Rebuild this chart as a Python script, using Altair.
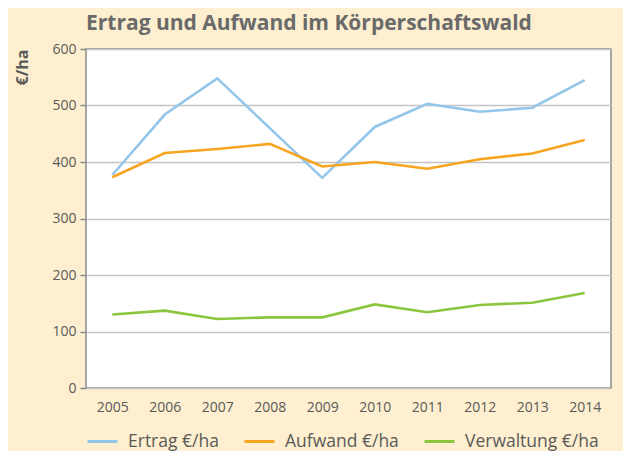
import altair as alt
import pandas as pd

years = ["2005", "2006", "2007", "2008", "2009", "2010", "2011", "2012", "2013", "2014"]
ertrag = [377, 484, 548, 460, 372, 462, 503, 489, 496, 545]
aufwand = [373, 416, 423, 432, 392, 400, 388, 405, 415, 439]
verwaltung = [130, 137, 122, 125, 125, 148, 134, 147, 151, 168]
series_names = ["Ertrag €/ha", "Aufwand €/ha", "Verwaltung €/ha"]
series_colors = ["#93C6EA", "#F7A521", "#8CC63F"]

rows = []
for name, vals in zip(series_names, [ertrag, aufwand, verwaltung]):
    for y, v in zip(years, vals):
        rows.append({"Jahr": y, "Wert": v, "Serie": name})
df = pd.DataFrame(rows)

text_color = "#5a5a5a"
font = "Open Sans"

chart = alt.Chart(df).mark_line(strokeWidth=2.6).encode(
    x=alt.X("Jahr:O", sort=years, scale=alt.Scale(padding=0.5),
            axis=alt.Axis(title=None, labelAngle=0, ticks=False, domain=False,
                          labelPadding=12, labelFontSize=14, labelColor=text_color,
                          labelFont=font, grid=False)),
    y=alt.Y("Wert:Q", scale=alt.Scale(domain=[0, 600]),
            axis=alt.Axis(values=[0, 100, 200, 300, 400, 500, 600], title="€/ha",
                          titleAngle=270, titleX=-64, titleY=0, titleAlign="right",
                          titleBaseline="middle", titleFontSize=16, titleFont=font,
                          titleFontWeight="bold", titleColor=text_color,
                          labelFontSize=14, labelColor=text_color, labelFont=font,
                          labelPadding=4, tickSize=6, tickColor="#888888", tickWidth=1.5,
                          domain=False, gridColor="#c4c4c4", gridWidth=1.5)),
    color=alt.Color("Serie:N", sort=series_names,
                    scale=alt.Scale(domain=series_names, range=series_colors),
                    legend=alt.Legend(title=None, orient="none", legendX=0, legendY=376,
                                      direction="horizontal", symbolType="stroke",
                                      symbolStrokeWidth=3, symbolSize=900,
                                      labelFontSize=17.5, labelColor=text_color, labelFont=font,
                                      labelOffset=9, columnPadding=19)),
).properties(
    width=525,
    height=339,
    title=alt.TitleParams("Ertrag und Aufwand im Körperschaftswald", anchor="start",
                          frame="group",
                          fontSize=21, font=font, fontWeight="bold", color="#6a6a6a",
                          offset=8),
    autosize=alt.AutoSizeParams(type="none"),
    padding={"left": 78, "top": 41, "right": 12, "bottom": 63},
    background="#FDEFCF",
).configure_view(
    fill="white", stroke="#8a8a8a", strokeWidth=1.5
)

chart.save("out.html", embed_options={"renderer": "svg", "actions": False})
